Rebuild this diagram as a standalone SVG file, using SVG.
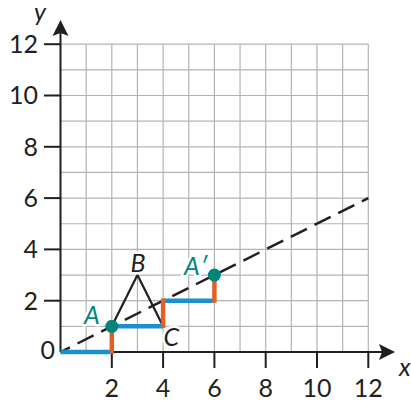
<svg xmlns="http://www.w3.org/2000/svg" width="411" height="401" viewBox="0 0 411 401">
<defs>
<style>
.grid line{stroke:#b3b3b3;stroke-width:1.2}
.axis{stroke:#231f20;stroke-width:2;fill:none}
.tick{stroke:#231f20;stroke-width:2}
.num{font-family:Lato,"Noto Sans",sans-serif;font-size:25px;fill:#231f20}
.lbl{font-family:Lato,"Noto Sans",sans-serif;font-size:25px;font-style:italic;stroke:#fff;stroke-width:5;stroke-linejoin:round;paint-order:stroke}
.blk{fill:#231f20}
.teal{fill:#00877a}
.blue{stroke:#1a8fd2;stroke-width:4.5;fill:none}
.orange{stroke:#e1602a;stroke-width:4.5;fill:none}
.tri{stroke:#231f20;stroke-width:2.2;fill:none}
.dash{stroke:#231f20;stroke-width:2.5;stroke-dasharray:18 8.5;stroke-dashoffset:7.5;fill:none}
.pt{fill:#00877a}
</style>
</defs>
<rect width="411" height="401" fill="#fff"/>
<g class="grid" id="grid">
<line x1="86.15" y1="44.2" x2="86.15" y2="352"/>
<line x1="111.8" y1="44.2" x2="111.8" y2="352"/>
<line x1="137.45" y1="44.2" x2="137.45" y2="352"/>
<line x1="163.1" y1="44.2" x2="163.1" y2="352"/>
<line x1="188.75" y1="44.2" x2="188.75" y2="352"/>
<line x1="214.4" y1="44.2" x2="214.4" y2="352"/>
<line x1="240.05" y1="44.2" x2="240.05" y2="352"/>
<line x1="265.7" y1="44.2" x2="265.7" y2="352"/>
<line x1="291.35" y1="44.2" x2="291.35" y2="352"/>
<line x1="317" y1="44.2" x2="317" y2="352"/>
<line x1="342.65" y1="44.2" x2="342.65" y2="352"/>
<line x1="368.3" y1="44.2" x2="368.3" y2="352"/>
<line x1="60.5" y1="326.35" x2="368.3" y2="326.35"/>
<line x1="60.5" y1="300.7" x2="368.3" y2="300.7"/>
<line x1="60.5" y1="275.05" x2="368.3" y2="275.05"/>
<line x1="60.5" y1="249.4" x2="368.3" y2="249.4"/>
<line x1="60.5" y1="223.75" x2="368.3" y2="223.75"/>
<line x1="60.5" y1="198.1" x2="368.3" y2="198.1"/>
<line x1="60.5" y1="172.45" x2="368.3" y2="172.45"/>
<line x1="60.5" y1="146.8" x2="368.3" y2="146.8"/>
<line x1="60.5" y1="121.15" x2="368.3" y2="121.15"/>
<line x1="60.5" y1="95.5" x2="368.3" y2="95.5"/>
<line x1="60.5" y1="69.85" x2="368.3" y2="69.85"/>
<line x1="60.5" y1="44.2" x2="368.3" y2="44.2"/>
</g>
<g id="axes">
<line class="axis" x1="60.5" y1="352" x2="60.5" y2="32"/>
<path class="blk" d="M60.5 20 L68.5 36 L60.5 33 L52.5 36 Z"/>
<line class="axis" x1="60.5" y1="352" x2="382" y2="352"/>
<path class="blk" d="M395 352 L379 344 L382 352 L379 360 Z"/>
<g class="tick">
<line x1="44" y1="300.7" x2="60.5" y2="300.7"/>
<line x1="44" y1="249.4" x2="60.5" y2="249.4"/>
<line x1="44" y1="198.1" x2="60.5" y2="198.1"/>
<line x1="44" y1="146.8" x2="60.5" y2="146.8"/>
<line x1="44" y1="95.5" x2="60.5" y2="95.5"/>
<line x1="44" y1="44.2" x2="60.5" y2="44.2"/>
<line x1="111.8" y1="352" x2="111.8" y2="368"/>
<line x1="163.1" y1="352" x2="163.1" y2="368"/>
<line x1="214.4" y1="352" x2="214.4" y2="368"/>
<line x1="265.7" y1="352" x2="265.7" y2="368"/>
<line x1="317" y1="352" x2="317" y2="368"/>
<line x1="368.3" y1="352" x2="368.3" y2="368"/>
</g>
<g class="num" text-anchor="end">
<text x="38" y="309.5">2</text>
<text x="38" y="258.2">4</text>
<text x="38" y="206.9">6</text>
<text x="38" y="155.6">8</text>
<text x="38" y="104.3">10</text>
<text x="38" y="53">12</text>
<text x="55" y="359">0</text>
</g>
<g class="num" text-anchor="middle">
<text x="111.8" y="397">2</text>
<text x="163.1" y="397">4</text>
<text x="214.4" y="397">6</text>
<text x="265.7" y="397">8</text>
<text x="317" y="397">10</text>
<text x="368.3" y="397">12</text>
</g>
<text class="num" x="34" y="21" font-style="italic">y</text>
<text class="num" x="399" y="376" font-style="italic">x</text>
</g>
<g id="connectors">
<line class="dash" x1="60.5" y1="352" x2="368.3" y2="198.1"/>
<polyline class="tri" points="111.8,326.35 137.45,275.05 163.1,326.35"/>
<line class="blue" x1="60.5" y1="352" x2="111.8" y2="352"/>
<line class="blue" x1="111.8" y1="326.35" x2="163.1" y2="326.35"/>
<line class="blue" x1="163.1" y1="300.7" x2="214.4" y2="300.7"/>
<line class="orange" x1="111.8" y1="354" x2="111.8" y2="326.35"/>
<line class="orange" x1="163.1" y1="328" x2="163.1" y2="298.5"/>
<line class="orange" x1="214.4" y1="302.7" x2="214.4" y2="275.05"/>
</g>
<g id="node-A">
<circle class="pt" cx="111.8" cy="326.35" r="6.5"/>
<text class="lbl teal" x="84" y="323.5">A</text>
</g>
<g id="node-A-prime">
<circle class="pt" cx="214.4" cy="275.05" r="6.5"/>
<text class="lbl teal" x="184" y="275">A′</text>
</g>
<g id="node-B">
<text class="lbl blk" x="130.5" y="271.7">B</text>
</g>
<g id="node-C">
<text class="lbl blk" x="163.5" y="346">C</text>
</g>
</svg>
